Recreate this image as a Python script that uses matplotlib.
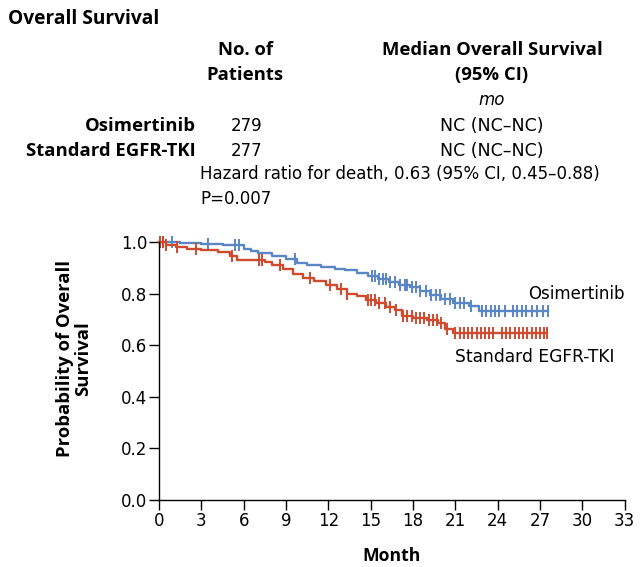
import numpy as np
import matplotlib.pyplot as plt

plt.rcParams['font.family'] = ['DejaVu Sans']
BOLD = dict(family='Open Sans', fontweight='bold')

# Kaplan-Meier steps (month, survival probability)
osi_times = [0, 1.5, 3.0, 4.5, 6.0, 6.5, 7.0, 8.0, 9.0, 9.8, 10.5, 11.5, 12.5,
             13.2, 14.0, 14.8, 15.5, 16.3, 17.0, 17.8, 18.5, 19.2, 20.0, 20.8, 22.0, 22.7]
osi_surv = [1.0, 0.996, 0.993, 0.989, 0.975, 0.965, 0.958, 0.948, 0.935, 0.918, 0.910, 0.903, 0.896,
            0.890, 0.880, 0.868, 0.858, 0.845, 0.835, 0.825, 0.810, 0.795, 0.780, 0.765, 0.752, 0.733]
osi_censor = [0.1, 0.3, 0.9, 3.5, 5.4, 5.7, 9.6, 15.1, 15.3, 15.6, 15.9, 16.1, 16.4, 16.7,
              17.1, 17.4, 17.6, 17.9, 18.2, 18.5, 18.9, 19.3, 19.6, 19.9, 20.3, 20.6, 21.0,
              21.3, 21.6, 22.1, 22.9, 23.2, 23.5, 23.8, 24.1, 24.5, 25.1, 25.4, 25.7, 26.0,
              26.4, 26.8, 27.2, 27.6]

std_times = [0, 0.5, 1.2, 2.0, 3.0, 4.2, 5.0, 5.5, 7.5, 8.0, 8.8, 9.5, 10.2, 11.0, 11.8,
             12.6, 13.3, 14.0, 14.7, 15.4, 16.1, 16.7, 17.2, 18.0, 19.0, 19.8, 20.3, 20.8]
std_surv = [1.0, 0.99, 0.982, 0.975, 0.97, 0.962, 0.945, 0.932, 0.922, 0.912, 0.895, 0.878,
            0.862, 0.848, 0.835, 0.82, 0.80, 0.79, 0.775, 0.765, 0.75, 0.735, 0.715, 0.705,
            0.70, 0.685, 0.665, 0.647]
std_censor = [0.1, 0.3, 0.5, 1.3, 2.6, 5.2, 7.1, 7.3, 8.6, 10.7, 12.1, 12.9, 13.3, 14.8, 15.0,
              15.3, 15.6, 16.0, 16.4, 16.8, 17.3, 17.6, 17.9, 18.2, 18.5, 18.8, 19.1, 19.4,
              19.7, 20.0, 20.4, 21.0, 21.3, 21.6, 21.9, 22.2, 22.5, 22.8, 23.1, 23.4, 23.7,
              24.3, 24.6, 24.9, 25.2, 25.5, 25.8, 26.1, 26.4, 26.7, 27.0, 27.3, 27.5]

x_ticks = [0, 3, 6, 9, 12, 15, 18, 21, 24, 27, 30, 33]
y_ticks = [0.0, 0.2, 0.4, 0.6, 0.8, 1.0]

blue = '#5a86c6'
red = '#cf4a2f'

fig = plt.figure(figsize=(6.44, 5.67), dpi=100)
ax = fig.add_axes([0.247, 0.118, 0.723, 0.455])


def km(times, surv, censor, color):
    t = np.array(times + [max(censor)])
    s = np.array(surv + [surv[-1]])
    ax.step(t, s, where='post', color=color, lw=1.7, clip_on=False)
    idx = np.searchsorted(times, censor, side='right') - 1
    ax.plot(censor, np.array(surv)[idx], ls='none', marker='|', ms=8, mew=1.4,
            color=color, clip_on=False)


km(osi_times, osi_surv, osi_censor, blue)
km(std_times, std_surv, std_censor, red)

ax.set_xlim(0, 33)
ax.set_ylim(0, 1.0)
ax.set_xticks(x_ticks)
ax.set_yticks(y_ticks)
ax.set_yticklabels([f'{v:.1f}' for v in y_ticks])
ax.spines['top'].set_visible(False)
ax.spines['right'].set_visible(False)
for s in ['left', 'bottom']:
    ax.spines[s].set_linewidth(1.0)
ax.tick_params(direction='out', length=7, width=1.0, labelsize=12, pad=1.5)
ax.set_xlabel('Month', fontsize=12.7, labelpad=12, **BOLD)
ax.set_ylabel('Probability of Overall\nSurvival', fontsize=13.3, linespacing=1.0, **BOLD)
ax.yaxis.set_label_coords(-0.143, 0.55)

ax.text(29.6, 0.80, 'Osimertinib', fontsize=12, ha='center', va='center')
ax.text(26.6, 0.555, 'Standard EGFR-TKI', fontsize=12.3, ha='center', va='center')

# header block
fig.text(0.013, 0.967, 'Overall Survival', fontsize=13.8, va='center', **BOLD)
fig.text(0.381, 0.911, 'No. of', fontsize=13.3, ha='center', va='center', **BOLD)
fig.text(0.381, 0.867, 'Patients', fontsize=13.3, ha='center', va='center', **BOLD)
fig.text(0.764, 0.911, 'Median Overall Survival', fontsize=13.3, ha='center', va='center', **BOLD)
fig.text(0.764, 0.867, '(95% CI)', fontsize=13.3, ha='center', va='center', **BOLD)
fig.text(0.764, 0.823, 'mo', fontsize=12, style='italic', ha='center', va='center')
fig.text(0.304, 0.778, 'Osimertinib', fontsize=13.3, ha='right', va='center', **BOLD)
fig.text(0.304, 0.734, 'Standard EGFR-TKI', fontsize=13.3, ha='right', va='center', **BOLD)
fig.text(0.358, 0.778, '279', fontsize=12, va='center')
fig.text(0.358, 0.734, '277', fontsize=12, va='center')
fig.text(0.764, 0.778, 'NC (NC\u2013NC)', fontsize=12.5, ha='center', va='center')
fig.text(0.764, 0.734, 'NC (NC\u2013NC)', fontsize=12.5, ha='center', va='center')
fig.text(0.311, 0.693, 'Hazard ratio for death, 0.63 (95% CI, 0.45\u20130.88)',
         fontsize=12, va='center')
fig.text(0.311, 0.649, 'P=0.007', fontsize=12, va='center')

fig.savefig('out.png', dpi=100)
